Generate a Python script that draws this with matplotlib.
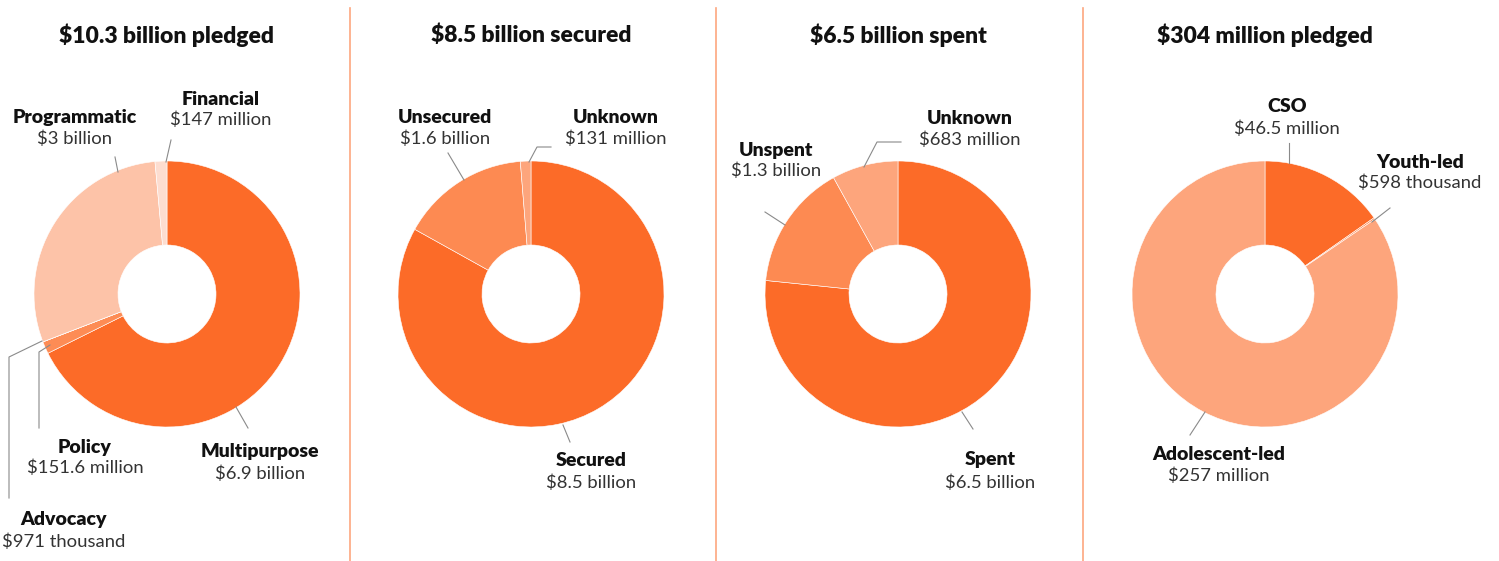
import matplotlib.pyplot as plt

# chart data
titles = ['$10.3 billion pledged', '$8.5 billion secured', '$6.5 billion spent', '$304 million pledged']

pledged_names = ['Multipurpose', 'Policy', 'Advocacy', 'Programmatic', 'Financial']
pledged_values = [6900, 151.6, 0.971, 3000, 147]  # $ million
pledged_text = ['$6.9 billion', '$151.6 million', '$971 thousand', '$3 billion', '$147 million']

secured_names = ['Secured', 'Unsecured', 'Unknown']
secured_values = [8500, 1600, 131]
secured_text = ['$8.5 billion', '$1.6 billion', '$131 million']

spent_names = ['Spent', 'Unspent', 'Unknown']
spent_values = [6500, 1300, 683]
spent_text = ['$6.5 billion', '$1.3 billion', '$683 million']

youth_names = ['CSO', 'Youth-led', 'Adolescent-led']
youth_values = [46.5, 0.598, 257]
youth_text = ['$46.5 million', '$598 thousand', '$257 million']

# colours per chart
cols1 = ['#FC6B28', '#FD8C55', '#FDAA85', '#FDC3A8', '#FDDDD0']
cols2 = ['#FC6B28', '#FD8A52', '#FDA57C']
cols3 = ['#FC6B28', '#FD8A52', '#FDA57C']
cols4 = ['#FC6B28', '#FD8A52', '#FDA57C']

# layout (pixel coords, y down): label centre x, name y, value y
lab1 = [(260, 452, 474), (85, 447, 468), (64, 519, 542), (75, 117, 139), (221, 99, 120)]
lab2 = [(591, 460, 483), (445, 117, 139), (616, 117, 139)]
lab3 = [(990, 460, 483), (776, 150, 171), (970, 118, 140)]
lab4 = [(1287, 106, 129), (1420, 162, 183), (1219, 454, 476)]

# leader lines (pixel coords)
lead1 = [[(236, 407), (248, 428)],
         [(39, 428), (39, 352), (50, 345)],
         [(9, 498), (9, 357), (42, 341)],
         [(115, 157), (118, 172)],
         [(171, 140), (166, 162)]]
lead2 = [[(563, 425), (570, 442)],
         [(448, 153), (464, 180)],
         [(551, 147), (537, 147), (529, 162)]]
lead3 = [[(962, 412), (973, 429)],
         [(765, 212), (785, 225)],
         [(901, 142), (877, 142), (864, 167)]]
lead4 = [[(1289, 143), (1289, 163)],
         [(1390, 208), (1372, 222)],
         [(1205, 412), (1190, 435)]]

W, H = 1499, 561
centres_x = [167, 531, 898, 1265]
cy = 294
R = 133
r_in = 49

plt.rcParams['font.family'] = ['Lato', 'DejaVu Sans']
fig = plt.figure(figsize=(W / 100, H / 100), dpi=100)
ax = fig.add_axes([0, 0, 1, 1])

charts = [
    (pledged_names, pledged_values, pledged_text, cols1, lab1, lead1),
    (secured_names, secured_values, secured_text, cols2, lab2, lead2),
    (spent_names, spent_values, spent_text, cols3, lab3, lead3),
    (youth_names, youth_values, youth_text, cols4, lab4, lead4),
]

for i, (names, vals, txt, cols, labs, leads) in enumerate(charts):
    cx = centres_x[i]
    ax.pie(vals, colors=cols, startangle=90, counterclock=False,
           center=(cx, H - cy), radius=R, frame=True,
           wedgeprops=dict(width=R - r_in, edgecolor='white', linewidth=0.4))
    ax.text(cx, H - 35, titles[i], ha='center', va='center',
            fontsize=16.5, fontweight='heavy', color='#111111')
    for n, t, (lx, ny, vy) in zip(names, txt, labs):
        ax.text(lx, H - ny, n, ha='center', va='center', fontsize=14,
                fontweight='heavy', color='#111111')
        ax.text(lx, H - vy, t, ha='center', va='center', fontsize=13.3,
                color='#333333')
    for pts in leads:
        ax.plot([p[0] for p in pts], [H - p[1] for p in pts],
                color='#8a8a8a', lw=0.8)

for sx in [350, 716, 1083]:
    ax.plot([sx, sx], [0, H - 8], color='#FDA77F', lw=1.2)

ax.set_xlim(0, W)
ax.set_ylim(0, H)
ax.set_aspect('equal')
ax.axis('off')
fig.savefig('out.png', dpi=100)
